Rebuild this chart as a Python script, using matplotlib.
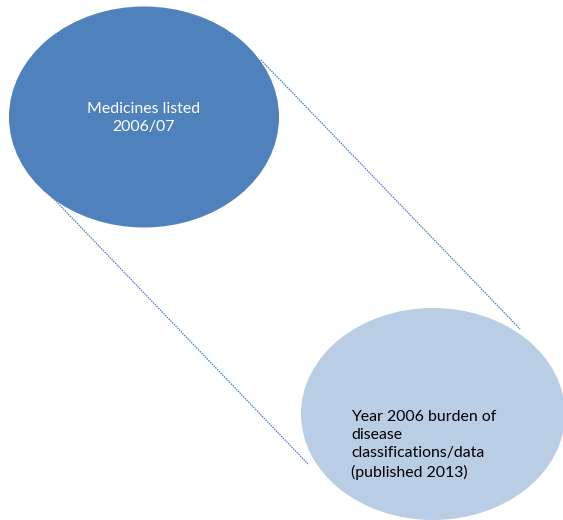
import matplotlib.pyplot as plt
from matplotlib.patches import Ellipse

# Ellipses: centre x, centre y, width, height (pixel space, y down)
ellipse_labels = ['Medicines listed\n2006/07',
                  'Year 2006 burden of\ndisease\nclassifications/data\n(published 2013)']
ellipse_cx = [144, 433]
ellipse_cy = [117, 414]
ellipse_w = [270, 264]
ellipse_h = [221, 212]

# Connector lines: (x0, y0) -> (x1, y1)
line_x0 = [261, 51]
line_y0 = [60, 196]
line_x1 = [520, 308]
line_y1 = [329, 464]

fig = plt.figure(figsize=(5.63, 5.20), dpi=100)
ax = fig.add_axes([0, 0, 1, 1])
ax.set_xlim(0, 563)
ax.set_ylim(520, 0)
ax.axis('off')

fills = ['#4f81bd', '#b9cde5']
for i in range(2):
    ax.add_patch(Ellipse((ellipse_cx[i], ellipse_cy[i]), ellipse_w[i], ellipse_h[i],
                         facecolor=fills[i], edgecolor='none', zorder=1))

for i in range(2):
    ax.plot([line_x0[i], line_x1[i]], [line_y0[i], line_y1[i]],
            color='#4a7ebb', lw=0.9, ls=(0, (1.2, 0.8)), zorder=2)

ax.text(ellipse_cx[0], 118, ellipse_labels[0], color='white',
        fontsize=11.4, family='Lato', ha='center', va='center', linespacing=1.42, zorder=3)
ax.text(351, 445, ellipse_labels[1], color='black',
        fontsize=11.4, family='Lato', ha='left', va='center', linespacing=1.38, zorder=3)

fig.savefig('out.png', dpi=100)
